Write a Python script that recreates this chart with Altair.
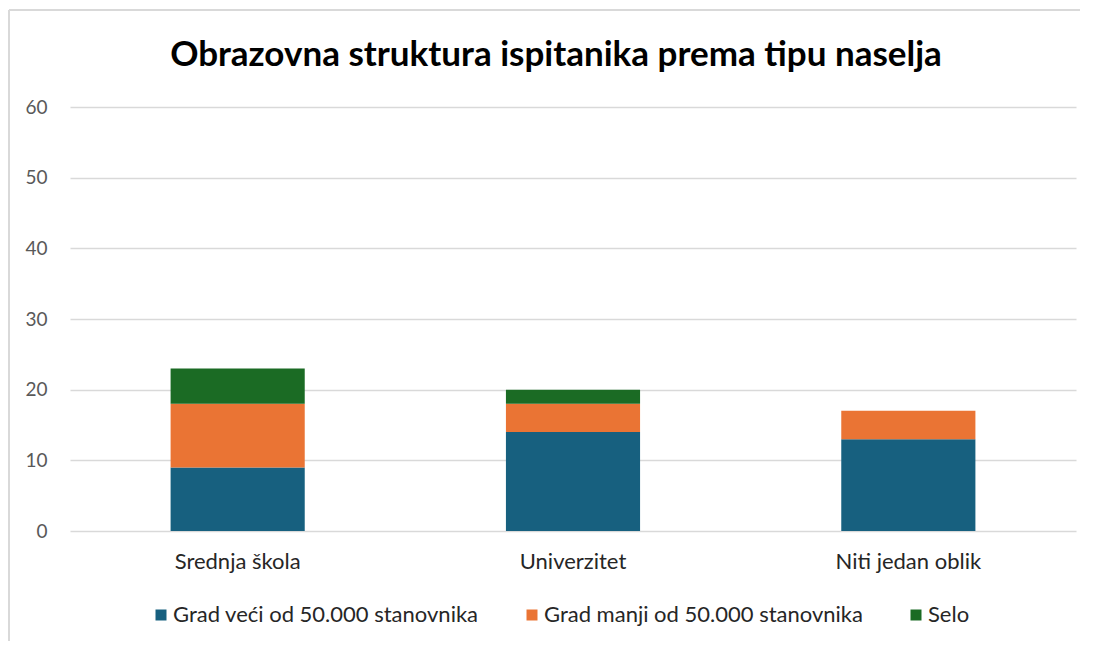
import altair as alt
import pandas as pd

categories = ["Srednja škola", "Univerzitet", "Niti jedan oblik"]
series = ["Grad veći od 50.000 stanovnika", "Grad manji od 50.000 stanovnika", "Selo"]
grad_veci = [9, 14, 13]
grad_manji = [9, 4, 4]
selo = [5, 2, 0]
colors = ["#17607F", "#EA7434", "#1B6B24"]
title_text = "Obrazovna struktura ispitanika prema tipu naselja"

rows = []
for i, c in enumerate(categories):
    for j, (s, vals) in enumerate(zip(series, [grad_veci, grad_manji, selo])):
        rows.append({"kat": c, "serija": s, "vrijednost": vals[i], "red": j})
df = pd.DataFrame(rows)

FONT = "Lato"
W, H = 1006, 424

bars = alt.Chart(df).mark_bar().encode(
    x=alt.X("kat:N", sort=categories, title=None,
            scale=alt.Scale(paddingInner=0.6, paddingOuter=0.3),
            axis=alt.Axis(labelAngle=0, labelFontSize=22, labelColor="#262626",
                          labelFont=FONT, labelPadding=20, domain=False, ticks=False)),
    y=alt.Y("vrijednost:Q", title=None, stack="zero",
            scale=alt.Scale(domain=[0, 60], nice=False),
            axis=alt.Axis(values=[0, 10, 20, 30, 40, 50, 60], labelFontSize=19,
                          labelColor="#595959", labelFont=FONT, labelPadding=23,
                          domain=False, ticks=False, gridColor="#D9D9D9", gridWidth=1.3)),
    color=alt.Color("serija:N", sort=series,
                    scale=alt.Scale(domain=series, range=colors),
                    legend=alt.Legend(title=None, orient="none", direction="horizontal",
                                      legendX=80, legendY=497, padding=0,
                                      labelFontSize=22, labelOffset=1,
                                      labelFont=FONT, labelColor="#262626",
                                      symbolType="square", symbolSize=121,
                                      symbolStrokeWidth=0, columnPadding=42,
                                      labelLimit=500)),
    order=alt.Order("red:Q", sort="ascending"),
)

one = alt.Data(values=[{}])
border_top = alt.Chart(one).mark_rule(color="#D9D9D9", strokeWidth=2).encode(
    x=alt.value(-61), x2=alt.value(1100), y=alt.value(-97)
)
border_left = alt.Chart(one).mark_rule(color="#D9D9D9", strokeWidth=2).encode(
    x=alt.value(-61), y=alt.value(-97), y2=alt.value(600)
)

title = alt.Chart(alt.Data(values=[{"t": title_text}])).mark_text(
    font=FONT, fontSize=35, fontWeight="bold", color="#000000",
    align="center", baseline="middle"
).encode(
    text="t:N", x=alt.value(486), y=alt.value(-52)
)

chart = alt.layer(border_top, border_left, title, bars).properties(
    width=W, height=H,
    background="white",
    autosize=alt.AutoSizeParams(type="none"),
    padding={"left": 62, "top": 99, "right": 4, "bottom": 110},
).configure_view(strokeWidth=0)

chart.save("out.html", embed_options={"renderer": "svg", "actions": False})
